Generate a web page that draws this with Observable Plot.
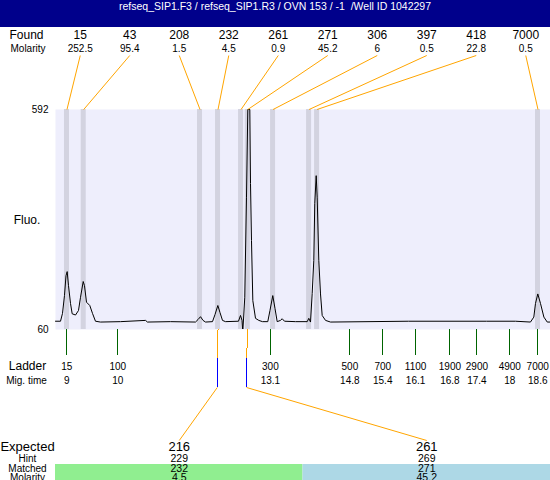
<!DOCTYPE html>
<html>
<head>
<meta charset="utf-8">
<script src="https://cdn.jsdelivr.net/npm/d3@7"></script>
<script src="https://cdn.jsdelivr.net/npm/@observablehq/plot@0.6"></script>
<style>
  html, body { margin: 0; padding: 0; background: white; }
  #header { width: 550px; height: 27px; line-height: 27px; background: #00008b; color: white;
            font: 10.5px "Liberation Sans", Arial, sans-serif; text-align: center; white-space: pre; }
  svg { display: block; }
</style>
</head>
<body>
<div id="header">refseq_SIP1.F3 / refseq_SIP1.R3 / OVN 153 / -1  /Well ID 1042297</div>
<div id="chart"></div>
<script>
// ---------------- data ----------------
const foundSize = [15, 43, 208, 232, 261, 271, 306, 397, 418, 7000];
const foundMolarity = ["252.5", "95.4", "1.5", "4.5", "0.9", "45.2", "6", "0.5", "22.8", "0.5"];
const foundTime = [9.004, 9.345, 11.716, 12.083, 12.552, 12.690, 13.205, 13.939, 14.102, 18.605];

const ladderSize = [15, 100, 300, 500, 700, 1100, 1900, 2900, 4900, 7000];
const ladderTime = [9.0, 10.04, 13.15, 14.77, 15.44, 16.11, 16.81, 17.36, 18.03, 18.6];
const ladderTimeLabel = ["9", "10", "13.1", "14.8", "15.4", "16.1", "16.8", "17.4", "18", "18.6"];

const expectedSize = [216, 261];
const hintSize = [229, 269];
const hintTime = [12.068, 12.665];
const matchedSize = [232, 271];
const matchedFoundIndex = [3, 5];
const matchedMolarity = ["4.5", "45.2"];

const traceTime = [8.770, 8.872, 8.913, 8.953, 8.984, 9.008, 9.035, 9.076, 9.110, 9.178, 9.239, 9.280,
  9.335, 9.361, 9.402, 9.469, 9.524, 9.585, 9.687, 10.095, 10.605, 10.645, 11.114, 11.624, 11.675,
  11.726, 11.777, 11.828, 11.970, 12.021, 12.079, 12.123, 12.174, 12.235, 12.500, 12.541, 12.572,
  12.588, 12.628, 12.663, 12.690, 12.731, 12.745, 12.765, 12.792, 12.847, 12.914, 12.989, 13.097,
  13.142, 13.199, 13.244, 13.289, 13.356, 13.391, 13.438, 13.662, 13.901, 13.933, 13.968, 14.002,
  14.035, 14.055, 14.084, 14.104, 14.137, 14.172, 14.206, 14.274, 14.376, 15.966, 17.556, 18.147,
  18.452, 18.520, 18.554, 18.601, 18.656, 18.725, 18.794, 18.860];
const traceFluo = [80, 80, 99, 142, 190, 200, 166, 123, 98, 95, 106, 138,
  176, 166, 126, 118, 99, 80, 78, 79, 82, 78, 79, 78, 84,
  91, 82, 78, 79, 96, 118, 101, 82, 79, 80, 94, 82,
  55, 138, 380, 592, 592, 413, 275, 130, 87, 82, 79, 79,
  106, 142, 111, 79, 82, 86, 80, 79, 79, 87, 78, 147,
  227, 365, 432, 380, 227, 146, 94, 82, 78, 80, 80, 80,
  78, 90, 123, 146, 123, 90, 78, 78];

// ---------------- layout ----------------
const HEADER = 27;
const W = 550, H = 480 - HEADER;
const fL = 55, fR = 550, fT = 109, fB = 329;   // frame in page pixels
const xDomain = [8.77, 18.86];
const yDomain = [60, 592];
const xAt = px => xDomain[0] + (px - fL) * (xDomain[1] - xDomain[0]) / (fR - fL);
const yAt = py => yDomain[0] + (fB - py) * (yDomain[1] - yDomain[0]) / (fB - fT);
const colX = (i, n) => xAt(fL + (i + 0.5) * (fR - fL) / n);
const colEdge = (i, n) => xAt(fL + i * (fR - fL) / n);

const ORANGE = "#ffa500", GREEN = "#006400", BAND = "#d3d3e0", BG = "#eeeefc";
const FILLS = ["#90ee90", "#add8e6"];
const trace = traceTime.map((t, i) => ({t, v: traceFluo[i]}));
const idx10 = d3.range(foundSize.length);
const idx2 = d3.range(expectedSize.length);

// connector from matched peak (bottom of frame) to hint marker top
const bandToHint = idx2.flatMap(i => [
  {g: i, t: foundTime[matchedFoundIndex[i]], v: yDomain[0]},
  {g: i, t: hintTime[i], v: yAt(358)}
]);

const marks = [
  Plot.frame({fill: BG, stroke: "none"}),
  Plot.rect(foundTime, {x1: d => d - 0.051, x2: d => d + 0.051, y1: 60, y2: 592, fill: BAND}),
  Plot.line(trace, {x: "t", y: "v", stroke: "black", strokeWidth: 1, clip: true}),
  Plot.axisY({ticks: [60, 592], tickSize: 0, tickPadding: 7, fontSize: 10, label: null, tickFormat: d => String(d)}),
  // found header
  Plot.text(["Found"], {x: xAt(26), y: yAt(35), text: d => d, fontSize: 12}),
  Plot.text(["Molarity"], {x: xAt(27.5), y: yAt(48), text: d => d, fontSize: 10}),
  Plot.text(idx10, {x: i => colX(i, 10), y: yAt(35), text: i => String(foundSize[i]), fontSize: 12}),
  Plot.text(idx10, {x: i => colX(i, 10), y: yAt(48), text: i => foundMolarity[i], fontSize: 10}),
  Plot.link(idx10, {x1: i => colX(i, 10), y1: yAt(55), x2: i => foundTime[i], y2: 592, stroke: ORANGE, strokeWidth: 1}),
  // Fluo label
  Plot.text(["Fluo."], {x: xAt(26.5), y: yAt(220), text: d => d, fontSize: 12}),
  // ladder
  Plot.ruleX(ladderTime, {y1: 60, y2: yAt(355), stroke: GREEN, strokeWidth: 1, shapeRendering: "crispEdges"}),
  Plot.text(["Ladder"], {x: xAt(27), y: yAt(366), text: d => d, fontSize: 12}),
  Plot.text(["Mig. time"], {x: xAt(26), y: yAt(380), text: d => d, fontSize: 10}),
  Plot.text(ladderTime, {x: d => d, y: yAt(366), text: (d, i) => String(ladderSize[i]), fontSize: 10}),
  Plot.text(ladderTime, {x: d => d, y: yAt(380), text: (d, i) => ladderTimeLabel[i], fontSize: 10}),
  // expected connectors
  Plot.line(bandToHint, {x: "t", y: "v", z: "g", stroke: ORANGE, strokeWidth: 1, shapeRendering: "crispEdges"}),
  Plot.ruleX(hintTime, {y1: yAt(358), y2: yAt(387), stroke: "blue", strokeWidth: 1, shapeRendering: "crispEdges"}),
  Plot.link(idx2, {x1: i => hintTime[i], y1: yAt(387), x2: i => colX(i, 2), y2: yAt(440), stroke: ORANGE, strokeWidth: 1}),
  // table backgrounds
  ...idx2.map(i => Plot.rect([i], {x1: colEdge(i, 2), x2: colEdge(i + 1, 2), y1: yAt(464), y2: yAt(480), fill: FILLS[i]})),
  // table labels
  Plot.text(["Expected"], {x: xAt(27), y: yAt(446), text: d => d, fontSize: 13}),
  Plot.text(["Hint"], {x: xAt(27), y: yAt(458), text: d => d, fontSize: 10}),
  Plot.text(["Matched"], {x: xAt(27), y: yAt(468.5), text: d => d, fontSize: 10}),
  Plot.text(["Molarity"], {x: xAt(27), y: yAt(477.5), text: d => d, fontSize: 10}),
  Plot.text(idx2, {x: i => colX(i, 2), y: yAt(446), text: i => String(expectedSize[i]), fontSize: 13}),
  Plot.text(idx2, {x: i => colX(i, 2), y: yAt(458), text: i => String(hintSize[i]), fontSize: 10.5}),
  Plot.text(idx2, {x: i => colX(i, 2), y: yAt(468.5), text: i => String(matchedSize[i]), fontSize: 10.5}),
  Plot.text(idx2, {x: i => colX(i, 2), y: yAt(477.5), text: i => matchedMolarity[i], fontSize: 10.5})
];

const chart = Plot.plot({
  width: W,
  height: H,
  marginLeft: fL,
  marginRight: W - fR,
  marginTop: fT - HEADER,
  marginBottom: H - (fB - HEADER),
  x: {domain: xDomain, axis: null},
  y: {domain: yDomain, axis: null},
  style: {fontFamily: "'Liberation Sans', Arial, sans-serif", fontSize: "10px", background: "white", color: "black", overflow: "visible"},
  marks
});
document.getElementById("chart").appendChild(chart);
</script>
</body>
</html>
